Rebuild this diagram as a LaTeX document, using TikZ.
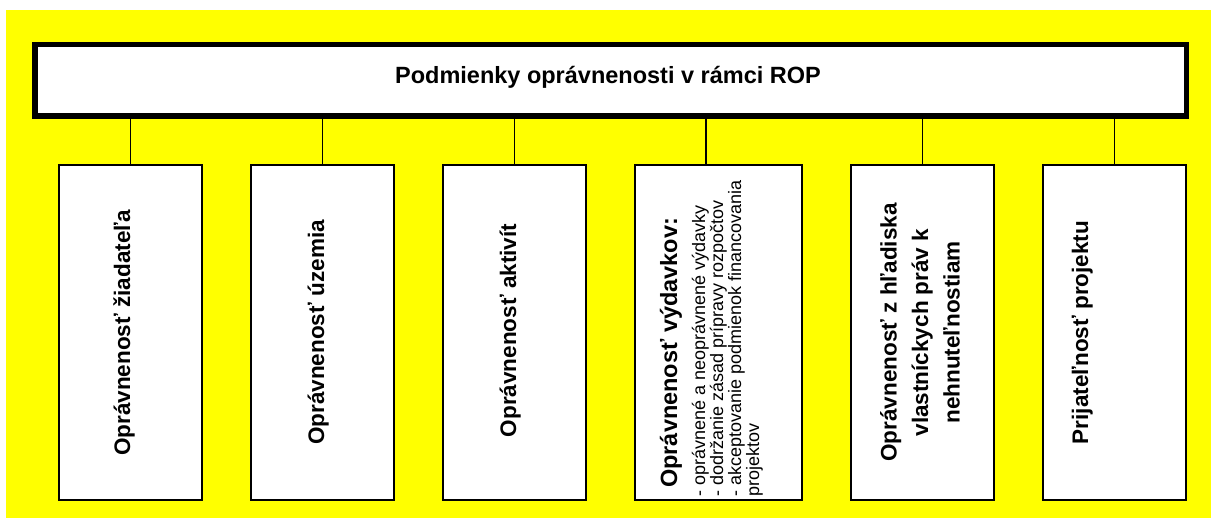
\documentclass[tikz,border=0pt]{standalone}
\usepackage{fontspec}
\setmainfont{Liberation Sans}
\usepackage{xcolor}
\definecolor{bgyellow}{RGB}{255,255,0}

\begin{document}
\begin{tikzpicture}[x=1pt,y=-1pt,
	kid/.style={draw,line width=2pt,fill=white,minimum width=143pt,minimum height=335pt,inner sep=0pt,outer sep=0pt},
	kidlabel/.style={rotate=90,anchor=base,inner sep=0pt,align=center,font=\fontsize{22.5}{31.5}\selectfont\bfseries},
	kidline/.style={rotate=90,anchor=base west,inner sep=0pt,font=\fontsize{18}{18}\selectfont},
	link/.style={line width=1.5pt}]
	\useasboundingbox (0,0) rectangle (1211,518);
	\fill [bgyellow] (6,10) rectangle (1211,518);
	% hlavny box
	\node [draw,line width=5.5pt,fill=white,minimum width=1151.5pt,minimum height=71.5pt,inner sep=0pt] (rop) at (610.5,80.5) {};
	\node [anchor=base,inner sep=0pt,font=\fontsize{23.5}{28}\selectfont\bfseries] (title) at (608,83.5) {Podmienky oprávnenosti v rámci ROP};
	% podmienky
	\node [kid] (k1) at (130.5,332.5) {};
	\node [kid] (k2) at (322.5,332.5) {};
	\node [kid] (k3) at (514.5,332.5) {};
	\node [kid,minimum width=167pt] (k4) at (718.5,332.5) {};
	\node [kid] (k5) at (922.5,332.5) {};
	\node [kid] (k6) at (1114.5,332.5) {};
	\coordinate (c4) at ([xshift=-12.5pt]k4.north);
	\draw [link] (rop.south -| k1.north) -- (k1.north);
	\draw [link] (rop.south -| k2.north) -- (k2.north);
	\draw [link] (rop.south -| k3.north) -- (k3.north);
	\draw [link] (rop.south -| c4) -- (c4);
	\draw [link] (rop.south -| k5.north) -- (k5.north);
	\draw [link] (rop.south -| k6.north) -- (k6.north);
	% texty
	\node [kidlabel] (t1) at (130,333) {Oprávnenosť žiadateľa};
	\node [kidlabel] (t2) at (324,332.5) {Oprávnenosť územia};
	\node [kidlabel] (t3) at (516,330.5) {Oprávnenosť aktivít};
	\node [kidlabel,anchor=base west,font=\fontsize{23.5}{28}\selectfont\bfseries] (t4) at (677,488) {Oprávnenosť výdavkov:};
	\node [kidline] (t4a) at (705,497) {- oprávnené a neoprávnené výdavky};
	\node [kidline] (t4b) at (723,497) {- dodržanie zásad prípravy rozpočtov};
	\node [kidline] (t4c) at (741,497) {- akceptovanie podmienok financovania};
	\node [kidline] (t4d) at (759,497) {projektov};
	\node [kidlabel,anchor=center] (t5) at (920,332.5) {Oprávnenosť z hľadiska\\vlastníckych práv k\\nehnuteľnostiam};
	\node [kidlabel] (t6) at (1088,332.5) {Prijateľnosť projektu};
\end{tikzpicture}
\end{document}
